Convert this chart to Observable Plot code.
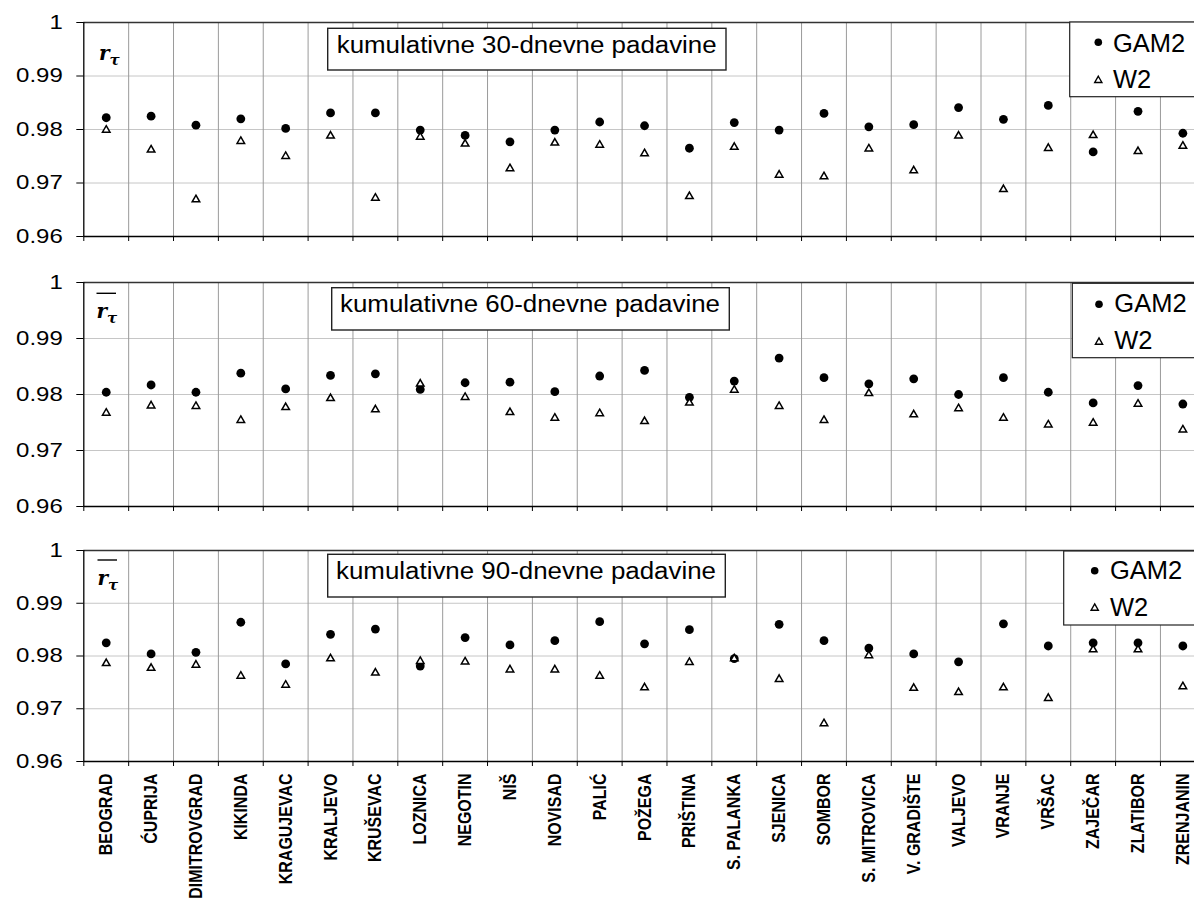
<!DOCTYPE html>
<html><head><meta charset="utf-8">
<script src="https://cdn.jsdelivr.net/npm/d3@7"></script>
<script src="https://cdn.jsdelivr.net/npm/@observablehq/plot@0.6"></script>
<style>
html,body{margin:0;padding:0;background:#fff;overflow:hidden;width:1194px;height:902px}
#wrap{position:relative;width:1194px;height:902px;overflow:hidden}
#wrap svg{position:absolute;left:0;top:0}
</style></head><body><div id="wrap"></div>
<script>
const stations = ["BEOGRAD","ĆUPRIJA","DIMITROVGRAD","KIKINDA","KRAGUJEVAC","KRALJEVO","KRUŠEVAC","LOZNICA","NEGOTIN","NIŠ","NOVISAD","PALIĆ","POŽEGA","PRIŠTINA","S. PALANKA","SJENICA","SOMBOR","S. MITROVICA","V. GRADIŠTE","VALJEVO","VRANJE","VRŠAC","ZAJEČAR","ZLATIBOR","ZRENJANIN"];
const gam30 = [0.9822,0.9825,0.9808,0.9820,0.9802,0.9831,0.9831,0.9799,0.9789,0.9777,0.9799,0.9814,0.9807,0.9765,0.9813,0.9799,0.9830,0.9805,0.9809,0.9841,0.9819,0.9845,0.9758,0.9834,0.9793];
const w30   = [0.9799,0.9762,0.9669,0.9778,0.9750,0.9788,0.9672,0.9786,0.9773,0.9727,0.9775,0.9771,0.9755,0.9675,0.9767,0.9715,0.9712,0.9764,0.9723,0.9788,0.9688,0.9765,0.9789,0.9759,0.9769];
const gam60 = [0.9804,0.9817,0.9804,0.9838,0.9810,0.9834,0.9837,0.9809,0.9821,0.9822,0.9805,0.9833,0.9843,0.9795,0.9824,0.9865,0.9830,0.9819,0.9828,0.9800,0.9830,0.9804,0.9785,0.9816,0.9783];
const w60   = [0.9767,0.9780,0.9779,0.9754,0.9777,0.9793,0.9773,0.9819,0.9795,0.9768,0.9758,0.9766,0.9752,0.9785,0.9808,0.9779,0.9754,0.9802,0.9764,0.9775,0.9758,0.9746,0.9749,0.9783,0.9737];
const gam90 = [0.9825,0.9804,0.9807,0.9864,0.9785,0.9841,0.9851,0.9781,0.9835,0.9821,0.9829,0.9865,0.9823,0.9850,0.9795,0.9860,0.9829,0.9815,0.9804,0.9789,0.9861,0.9819,0.9825,0.9825,0.9819];
const w90   = [0.9786,0.9777,0.9783,0.9762,0.9745,0.9795,0.9768,0.9790,0.9789,0.9774,0.9774,0.9762,0.9740,0.9788,0.9795,0.9756,0.9672,0.9801,0.9739,0.9731,0.9740,0.9720,0.9812,0.9812,0.9742];
const panelTitles = ["kumulativne 30-dnevne padavine","kumulativne 60-dnevne padavine","kumulativne 90-dnevne padavine"];
const seriesNames = ["GAM2","W2"];
const yTicks = [0.96,0.97,0.98,0.99,1];

const FONT = "'Liberation Sans', Arial, Helvetica, sans-serif";
const W = 1194, H = 902, X0 = 83.3, BW = 44.86;
const wrap = document.getElementById("wrap");

const panels = [
  {gam: gam30, w: w30, top: 22, bottom: 236, labels: false,
   box: [327.7, 28.3, 398.3, 41.7], tx: 336.7, ty: 53.3,
   leg: {x: 1069.7, y: 22, h: 74.7, sx: 1098.3, d: 42.3, t: 80, tx: 1113, b1: 51.7, b2: 88.3},
   sym: {x: 99, b: 60, over: false}},
  {gam: gam60, w: w60, top: 282, bottom: 506, labels: false,
   box: [331.7, 287.7, 397.6, 42.3], tx: 340, ty: 311.7,
   leg: {x: 1072.3, y: 283.3, h: 74.4, sx: 1099, d: 304.3, t: 341.7, tx: 1114.3, b1: 311.7, b2: 349.3},
   sym: {x: 96.5, b: 317.5, over: true, oy: 293.3}},
  {gam: gam90, w: w90, top: 550, bottom: 761, labels: true,
   box: [327.7, 554.3, 397.6, 42.7], tx: 336, ty: 579,
   leg: {x: 1063.7, y: 551, h: 74, sx: 1094.7, d: 570.7, t: 607.7, tx: 1110, b1: 579, b2: 615.7},
   sym: {x: 97.5, b: 585, over: true, oy: 560}}
];

panels.forEach((p, k) => {
  const rows = stations.map((s, i) => ({i, s, gam: p.gam[i], w: p.w[i]}));
  const n = stations.length;
  const plot = Plot.plot({
    width: W, height: H,
    marginLeft: X0, marginRight: 0, marginTop: p.top, marginBottom: H - p.bottom,
    x: {domain: [0, n], range: [X0, X0 + BW * n], axis: null},
    y: {domain: [0.96, 1]},
    style: {fontFamily: FONT, background: "transparent", overflow: "visible", color: "#000"},
    marks: [
      Plot.ruleY([0.97, 0.98, 0.99], {x1: 0, x2: n, stroke: "#c6c6c6", strokeWidth: 1, strokeOpacity: 1}),
      Plot.ruleX(d3.range(1, n + 1), {y1: 0.96, y2: 1, stroke: "#9a9a9a", strokeWidth: 1, strokeOpacity: 1}),
      Plot.axisX({ticks: d3.range(0, n + 1), tickSize: 5, tickFormat: () => "", stroke: "#000", strokeOpacity: 1, label: null}),
      Plot.ruleY([1], {x1: 0, x2: n, stroke: "#333", strokeWidth: 1.3, strokeOpacity: 1}),
      Plot.ruleY([0.96], {x1: 0, x2: n, stroke: "#000", strokeWidth: 1.3, strokeOpacity: 1}),
      Plot.ruleX([0], {y1: 0.96, y2: 1, stroke: "#000", strokeWidth: 1.3, strokeOpacity: 1}),
      Plot.axisY({ticks: yTicks, tickSize: 7, tickPadding: 14, fontSize: 20, tickFormat: d => String(+d.toFixed(2)), label: null, stroke: "#000", strokeOpacity: 1, fill: "#000"}),
      Plot.dot(rows, {x: d => d.i + 0.5, y: "gam", r: 4.4, fill: "#000", stroke: "none"}),
      Plot.dot(rows, {x: d => d.i + 0.5, y: "w", symbol: "triangle", r: 2.8, fill: "#fff", stroke: "#000", strokeWidth: 1.5}),
      p.labels ? Plot.text(rows, {x: d => d.i + 0.5, y: 0.96, text: "s", rotate: -90, textAnchor: "end", lineAnchor: "middle", dy: 12, fontSize: 16, fontWeight: "bold", fill: "#000"}) : null
    ]
  });
  wrap.appendChild(plot);
  // horizontally stretched text as in the reference
  d3.select(plot).selectAll('g[aria-label="y-axis tick label"] text').each(function() {
    const L = this.getComputedTextLength();
    this.setAttribute("textLength", (L * 1.2).toFixed(1));
    this.setAttribute("lengthAdjust", "spacingAndGlyphs");
  });
  d3.select(plot).selectAll("text").each(function() {
    const tr = this.getAttribute("transform") || "";
    if (tr.includes("rotate")) this.setAttribute("transform", tr + " scale(1,1.18)");
  });
});

// annotation overlay: panel titles, legends, symbols
const ov = d3.select(wrap).append("svg").attr("width", W).attr("height", H)
  .style("font-family", FONT);
panels.forEach((p, k) => {
  const [bx, by, bw, bh] = p.box;
  ov.append("rect").attr("x", bx).attr("y", by).attr("width", bw).attr("height", bh)
    .attr("fill", "#fff").attr("stroke", "#222").attr("stroke-width", 1.4);
  ov.append("text").attr("x", p.tx).attr("y", p.ty).attr("font-size", 23)
    .attr("textLength", 380).attr("lengthAdjust", "spacingAndGlyphs").attr("fill", "#000")
    .text(panelTitles[k]);
  const L = p.leg;
  ov.append("rect").attr("x", L.x).attr("y", L.y).attr("width", 140).attr("height", L.h)
    .attr("fill", "#fff").attr("stroke", "#222").attr("stroke-width", 1.2);
  ov.append("circle").attr("cx", L.sx).attr("cy", L.d).attr("r", 3.8).attr("fill", "#000");
  const s = 7.2, hgt = s * Math.sqrt(3) / 2;
  ov.append("path").attr("d", `M${L.sx},${L.t - hgt * 0.6}L${L.sx + s / 2},${L.t + hgt * 0.4}L${L.sx - s / 2},${L.t + hgt * 0.4}Z`)
    .attr("fill", "#fff").attr("stroke", "#000").attr("stroke-width", 1.4);
  ov.append("text").attr("x", L.tx).attr("y", L.b1).attr("font-size", 25.5).attr("fill", "#000").text(seriesNames[0]);
  ov.append("text").attr("x", L.tx).attr("y", L.b2).attr("font-size", 25.5).attr("fill", "#000").text(seriesNames[1]);
  const S = p.sym;
  const t = ov.append("text").attr("x", S.x).attr("y", S.b).attr("font-family", "'DejaVu Serif', serif")
    .attr("font-weight", "bold").attr("font-style", "italic").attr("font-size", 20).attr("fill", "#000");
  t.append("tspan").text("r");
  t.append("tspan").attr("font-size", 15).attr("dy", 5).text("τ");
  if (S.over) ov.append("line").attr("x1", S.x).attr("x2", S.x + 19.5).attr("y1", S.oy).attr("y2", S.oy)
    .attr("stroke", "#000").attr("stroke-width", 1.4);
});
</script>
</body></html>
